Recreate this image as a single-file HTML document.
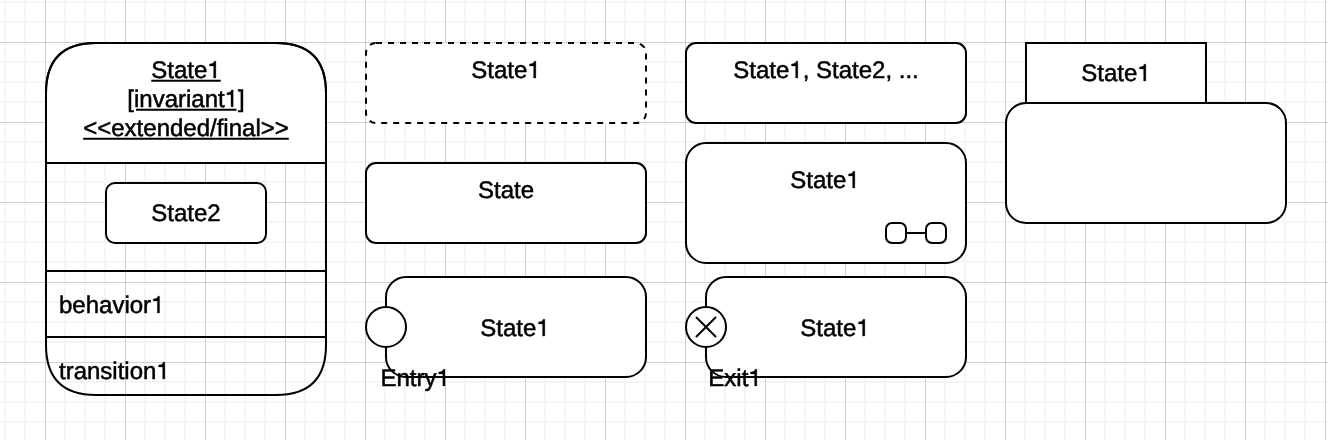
<!DOCTYPE html>
<html><head><meta charset="utf-8"><style>
html,body{margin:0;padding:0;background:#fff;}
body{width:1328px;height:440px;overflow:hidden;font-family:"Liberation Sans",sans-serif;}
svg{display:block;will-change:transform;}
.one{fill:none;stroke:none}
text{font-kerning:none}
</style></head><body>
<svg width="1328" height="440" viewBox="0 0 1328 440">
<rect width="1328" height="440" fill="#fff"/>
<rect x="4.0" y="0" width="2" height="440" fill="#f5f5f5"/>
<rect x="24.0" y="0" width="2" height="440" fill="#f5f5f5"/>
<rect x="64.0" y="0" width="2" height="440" fill="#f5f5f5"/>
<rect x="84.0" y="0" width="2" height="440" fill="#f5f5f5"/>
<rect x="104.0" y="0" width="2" height="440" fill="#f5f5f5"/>
<rect x="144.0" y="0" width="2" height="440" fill="#f5f5f5"/>
<rect x="164.0" y="0" width="2" height="440" fill="#f5f5f5"/>
<rect x="184.0" y="0" width="2" height="440" fill="#f5f5f5"/>
<rect x="224.0" y="0" width="2" height="440" fill="#f5f5f5"/>
<rect x="244.0" y="0" width="2" height="440" fill="#f5f5f5"/>
<rect x="264.0" y="0" width="2" height="440" fill="#f5f5f5"/>
<rect x="304.0" y="0" width="2" height="440" fill="#f5f5f5"/>
<rect x="324.0" y="0" width="2" height="440" fill="#f5f5f5"/>
<rect x="344.0" y="0" width="2" height="440" fill="#f5f5f5"/>
<rect x="384.0" y="0" width="2" height="440" fill="#f5f5f5"/>
<rect x="404.0" y="0" width="2" height="440" fill="#f5f5f5"/>
<rect x="424.0" y="0" width="2" height="440" fill="#f5f5f5"/>
<rect x="464.0" y="0" width="2" height="440" fill="#f5f5f5"/>
<rect x="484.0" y="0" width="2" height="440" fill="#f5f5f5"/>
<rect x="504.0" y="0" width="2" height="440" fill="#f5f5f5"/>
<rect x="544.0" y="0" width="2" height="440" fill="#f5f5f5"/>
<rect x="564.0" y="0" width="2" height="440" fill="#f5f5f5"/>
<rect x="584.0" y="0" width="2" height="440" fill="#f5f5f5"/>
<rect x="624.0" y="0" width="2" height="440" fill="#f5f5f5"/>
<rect x="644.0" y="0" width="2" height="440" fill="#f5f5f5"/>
<rect x="664.0" y="0" width="2" height="440" fill="#f5f5f5"/>
<rect x="704.0" y="0" width="2" height="440" fill="#f5f5f5"/>
<rect x="724.0" y="0" width="2" height="440" fill="#f5f5f5"/>
<rect x="744.0" y="0" width="2" height="440" fill="#f5f5f5"/>
<rect x="784.0" y="0" width="2" height="440" fill="#f5f5f5"/>
<rect x="804.0" y="0" width="2" height="440" fill="#f5f5f5"/>
<rect x="824.0" y="0" width="2" height="440" fill="#f5f5f5"/>
<rect x="864.0" y="0" width="2" height="440" fill="#f5f5f5"/>
<rect x="884.0" y="0" width="2" height="440" fill="#f5f5f5"/>
<rect x="904.0" y="0" width="2" height="440" fill="#f5f5f5"/>
<rect x="944.0" y="0" width="2" height="440" fill="#f5f5f5"/>
<rect x="964.0" y="0" width="2" height="440" fill="#f5f5f5"/>
<rect x="984.0" y="0" width="2" height="440" fill="#f5f5f5"/>
<rect x="1024.0" y="0" width="2" height="440" fill="#f5f5f5"/>
<rect x="1044.0" y="0" width="2" height="440" fill="#f5f5f5"/>
<rect x="1064.0" y="0" width="2" height="440" fill="#f5f5f5"/>
<rect x="1104.0" y="0" width="2" height="440" fill="#f5f5f5"/>
<rect x="1124.0" y="0" width="2" height="440" fill="#f5f5f5"/>
<rect x="1144.0" y="0" width="2" height="440" fill="#f5f5f5"/>
<rect x="1184.0" y="0" width="2" height="440" fill="#f5f5f5"/>
<rect x="1204.0" y="0" width="2" height="440" fill="#f5f5f5"/>
<rect x="1224.0" y="0" width="2" height="440" fill="#f5f5f5"/>
<rect x="1264.0" y="0" width="2" height="440" fill="#f5f5f5"/>
<rect x="1284.0" y="0" width="2" height="440" fill="#f5f5f5"/>
<rect x="1304.0" y="0" width="2" height="440" fill="#f5f5f5"/>
<rect x="0" y="1.0" width="1328" height="2" fill="#f5f5f5"/>
<rect x="0" y="21.0" width="1328" height="2" fill="#f5f5f5"/>
<rect x="0" y="61.0" width="1328" height="2" fill="#f5f5f5"/>
<rect x="0" y="81.0" width="1328" height="2" fill="#f5f5f5"/>
<rect x="0" y="101.0" width="1328" height="2" fill="#f5f5f5"/>
<rect x="0" y="141.0" width="1328" height="2" fill="#f5f5f5"/>
<rect x="0" y="161.0" width="1328" height="2" fill="#f5f5f5"/>
<rect x="0" y="181.0" width="1328" height="2" fill="#f5f5f5"/>
<rect x="0" y="221.0" width="1328" height="2" fill="#f5f5f5"/>
<rect x="0" y="241.0" width="1328" height="2" fill="#f5f5f5"/>
<rect x="0" y="261.0" width="1328" height="2" fill="#f5f5f5"/>
<rect x="0" y="301.0" width="1328" height="2" fill="#f5f5f5"/>
<rect x="0" y="321.0" width="1328" height="2" fill="#f5f5f5"/>
<rect x="0" y="341.0" width="1328" height="2" fill="#f5f5f5"/>
<rect x="0" y="381.0" width="1328" height="2" fill="#f5f5f5"/>
<rect x="0" y="401.0" width="1328" height="2" fill="#f5f5f5"/>
<rect x="0" y="421.0" width="1328" height="2" fill="#f5f5f5"/>
<rect x="45.0" y="0" width="1" height="440" fill="#d0d0d0"/>
<rect x="125.0" y="0" width="1" height="440" fill="#d0d0d0"/>
<rect x="205.0" y="0" width="1" height="440" fill="#d0d0d0"/>
<rect x="285.0" y="0" width="1" height="440" fill="#d0d0d0"/>
<rect x="365.0" y="0" width="1" height="440" fill="#d0d0d0"/>
<rect x="445.0" y="0" width="1" height="440" fill="#d0d0d0"/>
<rect x="525.0" y="0" width="1" height="440" fill="#d0d0d0"/>
<rect x="605.0" y="0" width="1" height="440" fill="#d0d0d0"/>
<rect x="685.0" y="0" width="1" height="440" fill="#d0d0d0"/>
<rect x="765.0" y="0" width="1" height="440" fill="#d0d0d0"/>
<rect x="845.0" y="0" width="1" height="440" fill="#d0d0d0"/>
<rect x="925.0" y="0" width="1" height="440" fill="#d0d0d0"/>
<rect x="1005.0" y="0" width="1" height="440" fill="#d0d0d0"/>
<rect x="1085.0" y="0" width="1" height="440" fill="#d0d0d0"/>
<rect x="1165.0" y="0" width="1" height="440" fill="#d0d0d0"/>
<rect x="1245.0" y="0" width="1" height="440" fill="#d0d0d0"/>
<rect x="1325.0" y="0" width="1" height="440" fill="#d0d0d0"/>
<rect x="0" y="42.0" width="1328" height="1" fill="#d0d0d0"/>
<rect x="0" y="122.0" width="1328" height="1" fill="#d0d0d0"/>
<rect x="0" y="202.0" width="1328" height="1" fill="#d0d0d0"/>
<rect x="0" y="282.0" width="1328" height="1" fill="#d0d0d0"/>
<rect x="0" y="362.0" width="1328" height="1" fill="#d0d0d0"/>

<g fill="#fff" stroke="#000" stroke-width="2">
<!-- A -->
<path d="M46 163 L46 93 Q46 43 96 43 L276 43 Q326 43 326 93 L326 163 Z"/>
<path d="M46 93 Q46 43 96 43 L276 43 Q326 43 326 93 L326 345 Q326 395 276 395 L96 395 Q46 395 46 345 Z" fill="none"/>
<path d="M46 163 H326 M46 271 H326 M46 337 H326" fill="none"/>
<rect x="106" y="183" width="160" height="60" rx="9" ry="9"/>
<!-- B -->
<rect x="366" y="43" width="280" height="80" rx="10" ry="10" stroke-dasharray="6 6"/>
<!-- C -->
<rect x="366" y="163" width="280" height="80" rx="10" ry="10"/>
<!-- D -->
<rect x="386" y="277" width="260" height="100" rx="20" ry="20"/>
<circle cx="386" cy="327" r="20"/>
<!-- E -->
<rect x="686" y="43" width="280" height="80" rx="10" ry="10"/>
<!-- F -->
<rect x="686" y="143" width="280" height="120" rx="20" ry="20"/>
<rect x="886" y="223" width="20" height="20" rx="6" ry="6"/>
<rect x="926" y="223" width="20" height="20" rx="6" ry="6"/>
<path d="M906 233 H926" fill="none"/>
<!-- G -->
<rect x="706" y="277" width="260" height="100" rx="20" ry="20"/>
<circle cx="706" cy="327" r="20"/>
<path d="M696 317 L716 337 M716 317 L696 337" fill="none"/>
<!-- H -->
<rect x="1026" y="43" width="180" height="60"/>
<rect x="1006" y="103" width="280" height="120" rx="20" ry="20"/>
</g>
<g font-family="'Liberation Sans', sans-serif" font-size="24" fill="#000" stroke="#000" stroke-width="0.5" text-anchor="middle" text-rendering="geometricPrecision">
<text x="186" y="78">State<tspan class="one">1</tspan></text>
<text x="186" y="106.8">[invariant<tspan class="one">1</tspan>]</text>
<text x="186" y="135.7">&lt;&lt;extended/final&gt;&gt;</text>
<text x="186" y="220.5">State2</text>
<path d="M151.3 80.8 H220.7 M136 109.8 H236.5 M83.2 138.8 H288.8" stroke-width="1.9" fill="none"/>
<text x="59" y="313" text-anchor="start">behavior<tspan class="one">1</tspan></text>
<text x="59" y="379" text-anchor="start">transition<tspan class="one">1</tspan></text>
<text x="506" y="78">State<tspan class="one">1</tspan></text>
<text x="506" y="197.6">State</text>
<text x="515" y="336">State<tspan class="one">1</tspan></text>
<text x="415.2" y="386">Entry<tspan class="one">1</tspan></text>
<text x="826" y="78">State<tspan class="one">1</tspan>, State2, ...</text>
<text x="825" y="188">State<tspan class="one">1</tspan></text>
<text x="835" y="336">State<tspan class="one">1</tspan></text>
<text x="735" y="386">Exit<tspan class="one">1</tspan></text>
<text x="1116" y="81">State<tspan class="one">1</tspan></text>
</g>
<g fill="#000" stroke="#000" stroke-width="0.3" stroke-linejoin="round">
<path transform="translate(207.34 78.00)" d="M8.5 0 L8.5 -16.85 L6.85 -16.85 C6.45 -15.1 4.9 -14.1 2.2 -14.0 L2.2 -12.1 L6.3 -12.1 L6.3 0 Z"/>
<path transform="translate(224.68 106.80)" d="M8.5 0 L8.5 -16.85 L6.85 -16.85 C6.45 -15.1 4.9 -14.1 2.2 -14.0 L2.2 -12.1 L6.3 -12.1 L6.3 0 Z"/>
<path transform="translate(151.06 313.00)" d="M8.5 0 L8.5 -16.85 L6.85 -16.85 C6.45 -15.1 4.9 -14.1 2.2 -14.0 L2.2 -12.1 L6.3 -12.1 L6.3 0 Z"/>
<path transform="translate(156.39 379.00)" d="M8.5 0 L8.5 -16.85 L6.85 -16.85 C6.45 -15.1 4.9 -14.1 2.2 -14.0 L2.2 -12.1 L6.3 -12.1 L6.3 0 Z"/>
<path transform="translate(527.34 78.00)" d="M8.5 0 L8.5 -16.85 L6.85 -16.85 C6.45 -15.1 4.9 -14.1 2.2 -14.0 L2.2 -12.1 L6.3 -12.1 L6.3 0 Z"/>
<path transform="translate(536.34 336.00)" d="M8.5 0 L8.5 -16.85 L6.85 -16.85 C6.45 -15.1 4.9 -14.1 2.2 -14.0 L2.2 -12.1 L6.3 -12.1 L6.3 0 Z"/>
<path transform="translate(436.53 386.00)" d="M8.5 0 L8.5 -16.85 L6.85 -16.85 C6.45 -15.1 4.9 -14.1 2.2 -14.0 L2.2 -12.1 L6.3 -12.1 L6.3 0 Z"/>
<path transform="translate(789.31 78.00)" d="M8.5 0 L8.5 -16.85 L6.85 -16.85 C6.45 -15.1 4.9 -14.1 2.2 -14.0 L2.2 -12.1 L6.3 -12.1 L6.3 0 Z"/>
<path transform="translate(846.34 188.00)" d="M8.5 0 L8.5 -16.85 L6.85 -16.85 C6.45 -15.1 4.9 -14.1 2.2 -14.0 L2.2 -12.1 L6.3 -12.1 L6.3 0 Z"/>
<path transform="translate(856.34 336.00)" d="M8.5 0 L8.5 -16.85 L6.85 -16.85 C6.45 -15.1 4.9 -14.1 2.2 -14.0 L2.2 -12.1 L6.3 -12.1 L6.3 0 Z"/>
<path transform="translate(748.33 386.00)" d="M8.5 0 L8.5 -16.85 L6.85 -16.85 C6.45 -15.1 4.9 -14.1 2.2 -14.0 L2.2 -12.1 L6.3 -12.1 L6.3 0 Z"/>
<path transform="translate(1137.34 81.00)" d="M8.5 0 L8.5 -16.85 L6.85 -16.85 C6.45 -15.1 4.9 -14.1 2.2 -14.0 L2.2 -12.1 L6.3 -12.1 L6.3 0 Z"/>
</g>

</svg>
</body></html>
